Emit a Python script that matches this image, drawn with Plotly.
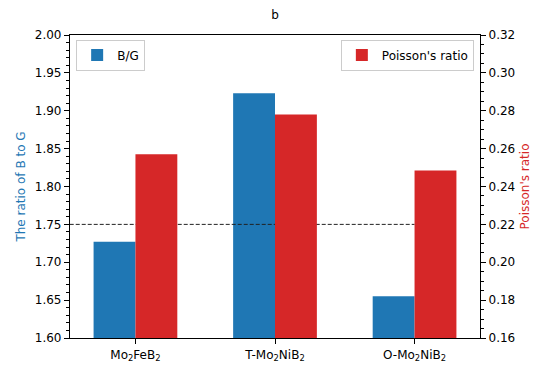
import plotly.graph_objects as go

# data
materials = ["Mo<sub>2</sub>FeB<sub>2</sub>", "T-Mo<sub>2</sub>NiB<sub>2</sub>", "O-Mo<sub>2</sub>NiB<sub>2</sub>"]
bg_ratio = [1.727, 1.923, 1.655]
poisson_ratio = [0.257, 0.278, 0.2485]
pugh_limit = 1.75          # ductile / brittle criterion
limit_x = [-0.6, 2]        # dashed line runs from the left edge to the last material

BLUE = "#1f77b4"
RED = "#d62728"
FONT = "DejaVu Sans"

# the page body keeps its default 8px margin, so the figure is made that much smaller
W, H = 549 - 8, 375 - 8

x_pos = list(range(len(materials)))

fig = go.Figure()

fig.add_trace(go.Bar(
    x=x_pos,
    y=bg_ratio,
    width=0.3,
    offset=-0.3,
    marker=dict(color=BLUE, line=dict(width=0)),
    name="B/G",
    legend="legend",
    yaxis="y",
))

fig.add_trace(go.Scatter(
    x=limit_x,
    y=[pugh_limit, pugh_limit],
    mode="lines",
    line=dict(color="#222222", width=1, dash="4px,2px"),
    showlegend=False,
    yaxis="y",
))

fig.add_trace(go.Bar(
    x=x_pos,
    y=poisson_ratio,
    width=0.3,
    offset=0,
    marker=dict(color=RED, line=dict(width=0)),
    name="Poisson's ratio",
    legend="legend2",
    yaxis="y2",
))

axis_common = dict(
    showline=True,
    linecolor="black",
    linewidth=1.2,
    ticks="outside",
    ticklen=5,
    tickwidth=1,
    tickcolor="black",
    showgrid=False,
    zeroline=False,
    tickfont=dict(family=FONT, size=12, color="black"),
)

fig.update_layout(
    width=W,
    height=H,
    margin=dict(l=60, r=69, t=27, b=34),
    paper_bgcolor="white",
    plot_bgcolor="white",
    font=dict(family=FONT, size=12, color="black"),
    title=dict(
        text="b",
        x=0.5,
        xref="paper",
        y=(H - 7) / H,
        yref="container",
        yanchor="middle",
        font=dict(family=FONT, size=12, color="black"),
    ),
    barmode="overlay",
    xaxis=dict(
        axis_common,
        range=[-0.469, 2.469],
        tickvals=x_pos,
        ticktext=materials,
        mirror=True,
    ),
    yaxis=dict(
        axis_common,
        range=[1.6, 2.0],
        dtick=0.05,
        tickformat=".2f",
        minor=dict(dtick=0.01, ticks="outside", ticklen=3, tickcolor="black"),
        title=dict(text="The ratio of B to G", font=dict(family=FONT, size=12, color=BLUE), standoff=6),
    ),
    yaxis2=dict(
        axis_common,
        overlaying="y",
        side="right",
        range=[0.16, 0.32],
        dtick=0.02,
        tickformat=".2f",
        minor=dict(dtick=0.005, ticks="outside", ticklen=3, tickcolor="black"),
        title=dict(text="Poisson's ratio", font=dict(family=FONT, size=12, color=RED), standoff=6),
    ),
    legend=dict(
        x=0.015, y=0.985, xanchor="left", yanchor="top",
        bgcolor="rgba(255,255,255,0.8)",
        bordercolor="#cccccc", borderwidth=1,
        font=dict(family=FONT, size=12, color="black"),
    ),
    legend2=dict(
        x=0.985, y=0.985, xanchor="right", yanchor="top",
        bgcolor="rgba(255,255,255,0.8)",
        bordercolor="#cccccc", borderwidth=1,
        font=dict(family=FONT, size=12, color="black"),
    ),
)

fig.write_html("out.html")
